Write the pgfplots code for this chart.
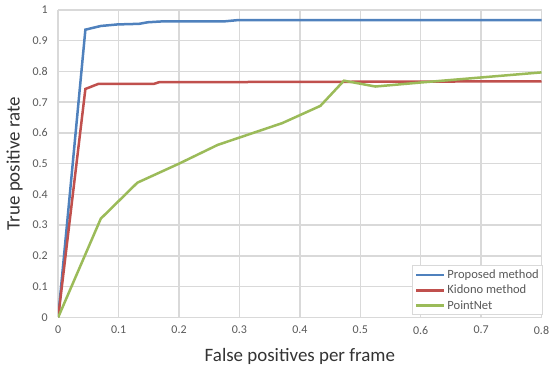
\documentclass[border=0pt]{standalone}
\usepackage{pgfplots}
\pgfplotsset{compat=1.18}
\usepackage{fontspec}
\setmainfont{Carlito}
\definecolor{cblue}{HTML}{4F81BD}
\definecolor{cred}{HTML}{C0504D}
\definecolor{cgreen}{HTML}{9BBB59}
\definecolor{gridc}{HTML}{D9D9D9}
\definecolor{txt}{HTML}{595959}
\begin{document}
\begin{tikzpicture}[x=1bp,y=1bp]
\begin{axis}[
  name=ax,
  scale only axis,
  width=483.3bp, height=307.3bp,
  xmin=0, xmax=0.8, ymin=0, ymax=1,
  xtick={0,0.1,0.2,0.3,0.4,0.5,0.6,0.7,0.8}, ytick={0,0.1,0.2,0.3,0.4,0.5,0.6,0.7,0.8,0.9,1},
  xticklabels={0,0.1,0.2,0.3,0.4,0.5,0.6,0.7,0.8},
  yticklabels={0,0.1,0.2,0.3,0.4,0.5,0.6,0.7,0.8,0.9,1},
  grid=major,
  major grid style={gridc, line width=1.5bp},
  axis line style={draw=none},
  major tick length=0pt,
  tick label style={font=\fontsize{12}{14}\selectfont, text=txt},
  /pgf/number format/assume math mode=true,
  xticklabel style={anchor=north, yshift=-5.4bp},
  yticklabel style={anchor=east, xshift=-7bp},
  xlabel={False positives per frame},
  ylabel={True positive rate},
  label style={font=\fontsize{19}{22}\selectfont, text=black!80},
  xlabel style={at={(axis description cs:0.5,0)}, anchor=center, yshift=-39bp},
  ylabel style={at={(axis description cs:0,0.5)}, anchor=center, yshift=43.5bp},
  legend style={at={(0.733,0.0075)}, anchor=south west, draw=gridc, line width=1bp, fill=white,
    font=\fontsize{12.6}{14}\selectfont, text=txt, row sep=1bp, inner xsep=2bp, inner ysep=2bp,
    /tikz/every even column/.append style={column sep=1bp}},
  legend cell align=left,
  legend image code/.code={\draw[#1, line width=2.5bp] (0bp,0bp) -- (28bp,0bp);},
]
\addplot[cblue, line width=2.5bp] coordinates {
  (0,0) (0.045,0.936) (0.0705,0.948) (0.098,0.953) (0.134,0.955) (0.148,0.960)
  (0.173,0.963) (0.275,0.963) (0.297,0.967) (0.8,0.967)};
\addlegendentry{Proposed method}
\addplot[cred, line width=2.5bp] coordinates {
  (0,0) (0.045,0.743) (0.067,0.760) (0.159,0.760) (0.167,0.765) (0.8,0.768)};
\addlegendentry{Kidono method}
\addplot[cgreen, line width=2.5bp] coordinates {
  (0,0) (0.0705,0.321) (0.131,0.438) (0.2,0.500) (0.264,0.561) (0.371,0.632)
  (0.434,0.688) (0.473,0.770) (0.525,0.751) (0.6,0.764) (0.8,0.797)};
\addlegendentry{PointNet}
\end{axis}
\pgfresetboundingbox
\path (ax.south west) ++(-58.2bp,-54.7bp) coordinate (bl);
\path (ax.north east) ++(8.5bp,10bp) coordinate (tr);
\useasboundingbox (bl) rectangle (tr);
\end{tikzpicture}
\end{document}
